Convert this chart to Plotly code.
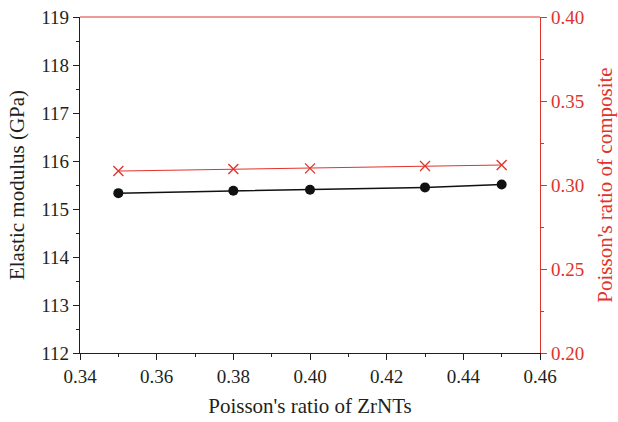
import plotly.graph_objects as go

nu_zrnt = [0.35, 0.38, 0.40, 0.43, 0.45]
elastic_modulus = [115.33, 115.38, 115.40, 115.45, 115.51]
poisson_composite = [0.3083, 0.3095, 0.3099, 0.3113, 0.3119]

RED = "#e2322b"
INK = "#231f20"
FONT = "Liberation Serif"

fig = go.Figure()
fig.add_trace(go.Scatter(
    x=nu_zrnt, y=elastic_modulus, mode="lines+markers",
    line=dict(color="#111", width=1.5),
    marker=dict(symbol="circle", size=10, color="#111"),
    yaxis="y", showlegend=False))
fig.add_trace(go.Scatter(
    x=nu_zrnt, y=poisson_composite, mode="lines+markers",
    line=dict(color=RED, width=1),
    marker=dict(symbol="x-thin", size=10, line=dict(color=RED, width=1.3)),
    yaxis="y2", showlegend=False))

fig.update_layout(
    width=618, height=422,
    margin=dict(l=80, r=78, t=17, b=69),
    plot_bgcolor="white", paper_bgcolor="white",
    font=dict(family=FONT, size=19, color=INK),
    xaxis=dict(range=[0.34, 0.46], dtick=0.02, tickformat=".2f", automargin=False,
               showgrid=False, zeroline=False, showline=True, linecolor=INK, linewidth=1.2,
               ticks="outside", ticklen=6, tickcolor=INK,
               minor=dict(dtick=0.01, ticks="outside", ticklen=3, tickcolor=INK),
               title=dict(text="Poisson's ratio of ZrNTs", font=dict(size=21), standoff=12)),
    yaxis=dict(range=[112, 119], dtick=1, automargin=False,
               showgrid=False, zeroline=False, showline=True, linecolor=INK, linewidth=1.2,
               ticks="outside", ticklen=6, tickcolor=INK,
               minor=dict(dtick=0.5, ticks="outside", ticklen=3, tickcolor=INK),
               title=dict(text="Elastic modulus (GPa)", font=dict(size=21), standoff=10)),
    yaxis2=dict(range=[0.20, 0.40], dtick=0.05, tickformat=".2f", overlaying="y", side="right",
                automargin=False,
                showgrid=False, zeroline=False, showline=True, linecolor=RED, linewidth=1.2,
                ticks="outside", ticklen=6, tickcolor=RED, tickfont=dict(color=RED),
                minor=dict(dtick=0.025, ticks="outside", ticklen=3, tickcolor=RED),
                title=dict(text="Poisson's ratio of composite", font=dict(size=21, color=RED), standoff=14)),
    shapes=[dict(type="line", xref="paper", yref="paper", x0=0, x1=1, y0=1, y1=1,
                 line=dict(color=RED, width=1.2))],
)

fig.write_html("out.html")
